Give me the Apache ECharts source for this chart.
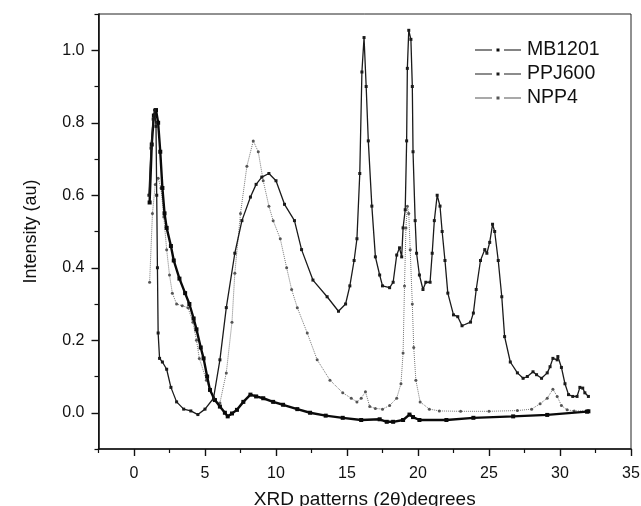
<!DOCTYPE html>
<html>
<head>
<meta charset="utf-8">
<script src="https://cdn.jsdelivr.net/npm/echarts@6/dist/echarts.min.js"></script>
<style>html,body{margin:0;padding:0;background:#fff;}#c{width:641px;height:506px;}</style>
</head>
<body>
<div id="c"></div>
<script>
// Series names
const seriesNames = ['MB1201', 'PPJ600', 'NPP4'];
// Axis tick labels
const xTickValues = [0, 5, 10, 15, 20, 25, 30, 35];
const xMinorValues = [-2.5, 2.5, 7.5, 12.5, 17.5, 22.5, 27.5, 32.5];
const yTickValues = [0, 0.2, 0.4, 0.6, 0.8, 1.0];
const yMinorValues = [-0.1, 0.1, 0.3, 0.5, 0.7, 0.9, 1.1];

// MB1201 (thick, low baseline after ~7 deg)
const mbX = [1.1,1.25,1.4,1.55,1.7,1.85,2.0,2.15,2.3,2.6,2.8,3.2,3.6,3.9,4.2,4.4,4.7,4.9,5.15,5.35,5.7,6.05,6.4,6.6,6.9,7.25,7.7,8.2,8.6,9.1,9.8,10.5,11.5,12.4,13.5,14.7,16.0,17.3,17.8,18.25,18.95,19.4,19.65,20.1,22.0,23.9,26.7,29.1,31.9,32.0];
const mbY = [0.58,0.74,0.82,0.835,0.80,0.72,0.62,0.55,0.51,0.46,0.42,0.37,0.33,0.30,0.26,0.23,0.18,0.15,0.10,0.063,0.035,0.017,0.0,-0.01,-0.002,0.008,0.03,0.05,0.045,0.04,0.03,0.022,0.01,0.0,-0.008,-0.014,-0.02,-0.018,-0.025,-0.025,-0.02,-0.005,-0.012,-0.02,-0.02,-0.014,-0.01,-0.006,0.003,0.004];

// PPJ600 (broad hump + sharp peaks)
const ppX = [1.05,1.2,1.35,1.45,1.55,1.6,1.65,1.7,1.8,2.0,2.3,2.6,3.0,3.5,4.0,4.5,5.0,5.6,6.05,6.5,7.1,7.6,8.2,8.6,9.0,9.5,10.0,10.6,11.3,11.8,12.6,13.6,14.4,14.9,15.2,15.5,15.7,15.9,16.05,16.2,16.35,16.5,16.75,17.0,17.3,17.5,18.0,18.25,18.5,18.7,18.85,18.95,19.1,19.2,19.25,19.35,19.5,19.6,19.65,19.8,19.9,20.1,20.35,20.55,20.85,21.0,21.15,21.35,21.55,21.7,21.9,22.1,22.5,22.8,23.1,23.7,23.9,24.1,24.4,24.7,24.85,25.05,25.25,25.4,25.65,25.9,26.1,26.5,27.0,27.4,27.7,28.1,28.35,28.7,29.1,29.3,29.5,29.8,29.85,30.1,30.35,30.6,30.9,31.2,31.4,31.6,31.75,32.0];
const ppY = [0.6,0.73,0.81,0.835,0.79,0.6,0.4,0.22,0.15,0.14,0.12,0.07,0.03,0.01,0.005,-0.005,0.01,0.04,0.146,0.29,0.44,0.53,0.595,0.63,0.65,0.66,0.64,0.575,0.53,0.45,0.366,0.32,0.28,0.30,0.35,0.42,0.48,0.66,0.94,1.035,0.9,0.75,0.57,0.43,0.38,0.35,0.345,0.36,0.435,0.455,0.43,0.51,0.56,0.75,0.95,1.055,1.03,0.90,0.72,0.53,0.44,0.38,0.34,0.36,0.36,0.44,0.53,0.60,0.57,0.50,0.42,0.33,0.27,0.265,0.24,0.25,0.275,0.34,0.42,0.45,0.44,0.47,0.52,0.50,0.42,0.32,0.21,0.14,0.11,0.095,0.10,0.113,0.105,0.095,0.11,0.127,0.15,0.146,0.155,0.125,0.08,0.05,0.045,0.045,0.07,0.068,0.055,0.045];

// NPP4 (light dotted)
const npX = [1.1,1.3,1.5,1.7,1.9,2.1,2.3,2.5,2.7,3.0,3.4,3.8,4.15,4.4,4.6,5.1,5.6,6.05,6.5,6.9,7.1,7.5,7.95,8.4,8.75,9.1,9.5,9.8,10.3,10.75,11.1,11.5,12.2,12.9,13.8,14.7,15.3,15.7,16.0,16.3,16.6,17.0,17.5,18.0,18.5,18.8,18.95,19.05,19.15,19.25,19.35,19.45,19.6,19.7,19.85,20.15,20.8,21.5,23.0,25.0,27.0,28.0,28.6,29.1,29.5,29.8,30.1,30.5,31.0,32.0];
const npY = [0.36,0.55,0.63,0.647,0.62,0.54,0.45,0.38,0.33,0.30,0.295,0.29,0.25,0.20,0.15,0.09,0.035,0.027,0.11,0.25,0.385,0.55,0.68,0.75,0.72,0.64,0.57,0.53,0.48,0.40,0.34,0.29,0.22,0.146,0.09,0.055,0.04,0.03,0.04,0.058,0.017,0.012,0.01,0.02,0.04,0.08,0.165,0.35,0.51,0.57,0.55,0.45,0.3,0.18,0.09,0.03,0.01,0.005,0.004,0.004,0.006,0.01,0.025,0.04,0.065,0.045,0.02,0.008,0.005,0.005];

const zip = (xs, ys) => xs.map((x, i) => [x, ys[i]]);

const FONT = '"Liberation Sans", Arial, Helvetica, sans-serif';
const LEGEND_ICON = 'path://M0,0.9L17,0.9L17,2.1L0,2.1Z M21.5,0L24.5,0L24.5,3L21.5,3Z M29,0.9L46,0.9L46,2.1L29,2.1Z';
const chart = echarts.init(document.getElementById('c'), null, {renderer: 'canvas'});

const baseX = {
  type: 'value', min: -2.5, max: 35, position: 'bottom',
  splitLine: {show: false}
};
const baseY = {
  type: 'value', min: -0.1, max: 1.1, position: 'left',
  splitLine: {show: false}
};

chart.setOption({
  animation: false,
  backgroundColor: '#ffffff',
  grid: {left: 98.5, right: 10, top: 14, bottom: 57, show: true, borderColor: '#222', borderWidth: 1,
         containLabel: false, outerBoundsMode: 'none'},
  legend: {
    orient: 'vertical', left: 470, top: 35,
    itemWidth: 46, itemHeight: 3, itemGap: 4, symbolKeepAspect: false,
    textStyle: {fontFamily: FONT, fontSize: 19.5, color: '#111', lineHeight: 18, padding: [0,0,0,1]},
    data: seriesNames.map(n => ({name: n, icon: LEGEND_ICON}))
  },
  xAxis: [
    Object.assign({}, baseX, {
      name: 'XRD patterns (2\u03b8)degrees', nameLocation: 'middle', nameGap: 41,
      nameTextStyle: {fontFamily: FONT, fontSize: 19, color: '#111'},
      axisLine: {show: true, onZero: false, lineStyle: {color: '#111', width: 1.6}},
      axisTick: {show: true, inside: false, length: 7, customValues: xTickValues, lineStyle: {color: '#111', width: 1.4}},
      axisLabel: {show: true, margin: 17, customValues: xTickValues, fontFamily: FONT, fontSize: 16, color: '#111', formatter: v => String(v)}
    }),
    Object.assign({}, baseX, {
      axisLine: {show: false, onZero: false},
      axisTick: {show: true, inside: false, length: 4, customValues: xMinorValues, lineStyle: {color: '#111', width: 1.2}},
      axisLabel: {show: false}
    })
  ],
  yAxis: [
    Object.assign({}, baseY, {
      name: 'Intensity (au)', nameLocation: 'middle', nameGap: 58, nameRotate: 90,
      nameTextStyle: {fontFamily: FONT, fontSize: 18, color: '#111'},
      axisLine: {show: true, onZero: false, lineStyle: {color: '#111', width: 1.6}},
      axisTick: {show: true, inside: false, length: 7, customValues: yTickValues, lineStyle: {color: '#111', width: 1.4}},
      axisLabel: {show: true, margin: 14, customValues: yTickValues, fontFamily: FONT, fontSize: 16, color: '#111', formatter: v => v.toFixed(1)}
    }),
    Object.assign({}, baseY, {
      axisLine: {show: false, onZero: false},
      axisTick: {show: true, inside: false, length: 4, customValues: yMinorValues, lineStyle: {color: '#111', width: 1.2}},
      axisLabel: {show: false}
    })
  ],
  series: [
    {
      name: seriesNames[0], type: 'line', xAxisIndex: 0, yAxisIndex: 0,
      data: zip(mbX, mbY), symbol: 'rect', symbolSize: 4, showSymbol: true,
      itemStyle: {color: '#0a0a0a'}, lineStyle: {color: '#0a0a0a', width: 2.4}, z: 3
    },
    {
      name: seriesNames[1], type: 'line', xAxisIndex: 0, yAxisIndex: 0,
      data: zip(ppX, ppY), symbol: 'rect', symbolSize: 3, showSymbol: true,
      itemStyle: {color: '#1a1a1a'}, lineStyle: {color: '#1a1a1a', width: 1.3}, z: 4
    },
    {
      name: seriesNames[2], type: 'line', xAxisIndex: 0, yAxisIndex: 0,
      data: zip(npX, npY), symbol: 'circle', symbolSize: 3, showSymbol: true,
      itemStyle: {color: '#555'}, lineStyle: {color: '#777', width: 1, type: 'dotted'}, z: 2
    }
  ]
});
</script>
</body>
</html>
